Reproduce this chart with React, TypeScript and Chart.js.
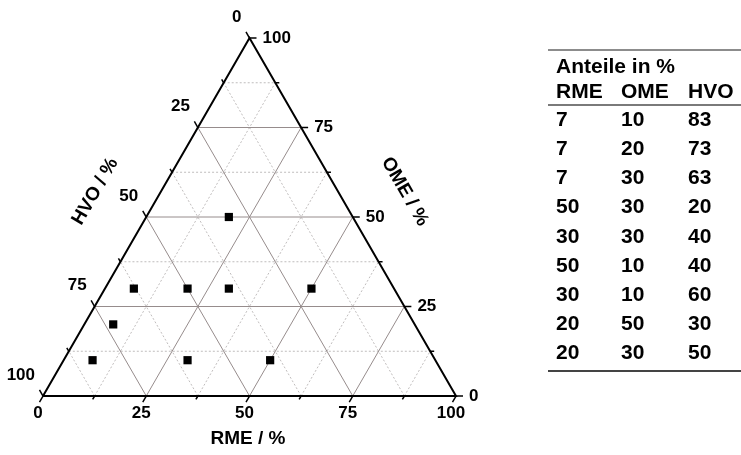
import React, { useEffect, useRef } from "react";
import { Chart, registerables } from "chart.js";

Chart.register(...registerables);

// Blend compositions (percent by volume)
const RME = [7, 7, 7, 50, 30, 50, 30, 20, 20];
const OME = [10, 20, 30, 30, 30, 10, 10, 50, 30];
const HVO = [83, 73, 63, 20, 40, 40, 60, 30, 50];

const TABLE_TITLE = "Anteile in %";
const COLUMN_NAMES = ["RME", "OME", "HVO"];

const MAJOR_GRID = [25, 50, 75];
const MINOR_GRID = [12.5, 37.5, 62.5, 87.5];
const TICK_VALUES = [0, 25, 50, 75, 100];

const AXIS_TITLES = { rme: "RME / %", ome: "OME / %", hvo: "HVO / %" };

const H = Math.sqrt(3) / 2;
const FONT = '"Liberation Sans", Arial, sans-serif';

// ternary composition (RME, OME) -> cartesian data coordinates
const tp = (rme: number, ome: number) => ({ x: rme + ome / 2, y: ome * H });

function lineDataset(a: { x: number; y: number }, b: { x: number; y: number }, color: string, width: number, dash: number[], order: number) {
  return {
    type: "scatter" as const,
    data: [a, b],
    showLine: true,
    borderColor: color,
    borderWidth: width,
    borderDash: dash,
    pointRadius: 0,
    pointHoverRadius: 0,
    clip: false as any,
    order,
  };
}

function gridDatasets(values: number[], color: string, width: number, dash: number[], order: number) {
  const out: any[] = [];
  values.forEach((c) => {
    // constant OME (horizontal)
    out.push(lineDataset(tp(0, c), tp(100 - c, c), color, width, dash, order));
    // constant RME (parallel to left edge)
    out.push(lineDataset(tp(c, 0), tp(c, 100 - c), color, width, dash, order));
    // constant HVO (parallel to right edge)
    out.push(lineDataset(tp(100 - c, 0), tp(0, 100 - c), color, width, dash, order));
  });
  return out;
}

const ternaryAxes = {
  id: "ternaryAxes",
  afterDatasetsDraw(chart: any) {
    const { ctx, scales } = chart;
    const xs = scales.x;
    const ys = scales.y;
    const px = (p: { x: number; y: number }) => ({ x: xs.getPixelForValue(p.x), y: ys.getPixelForValue(p.y) });

    ctx.save();
    ctx.strokeStyle = "#000";
    ctx.lineWidth = 1.5;

    const tick = (p: { x: number; y: number }, dx: number, dy: number, len: number) => {
      ctx.beginPath();
      ctx.moveTo(p.x, p.y);
      ctx.lineTo(p.x + dx * len, p.y + dy * len);
      ctx.stroke();
    };

    const all = [...TICK_VALUES.map((v) => [v, 7]), ...MINOR_GRID.map((v) => [v, 4])];
    all.forEach(([v, len]) => {
      tick(px(tp(v, 0)), -0.5, H, len); // RME along bottom
      tick(px(tp(100 - v, v)), 1, 0, len); // OME along right
      tick(px(tp(0, 100 - v)), -0.5, -H, len); // HVO along left
    });

    ctx.fillStyle = "#000";
    ctx.font = `bold 17px ${FONT}`;
    ctx.textBaseline = "middle";
    TICK_VALUES.forEach((v) => {
      const b = px(tp(v, 0));
      ctx.textAlign = "center";
      ctx.fillText(String(v), b.x - 5, b.y + 17);
      const r = px(tp(100 - v, v));
      ctx.textAlign = "left";
      ctx.fillText(String(v), r.x + 13, r.y);
      const l = px(tp(0, 100 - v));
      ctx.textAlign = "right";
      ctx.fillText(String(v), l.x - 8, l.y - 21);
    });

    // axis titles
    ctx.font = `bold 19px ${FONT}`;
    ctx.textAlign = "center";
    const bm = px(tp(50, 0));
    ctx.fillText(AXIS_TITLES.rme, bm.x - 1.5, bm.y + 43);

    const lm = px(tp(0, 50));
    ctx.save();
    ctx.translate(lm.x - 51, lm.y - 25.5);
    ctx.rotate(-Math.PI / 3);
    ctx.fillText(AXIS_TITLES.hvo, 0, 0);
    ctx.restore();

    const rm = px(tp(50, 50));
    ctx.save();
    ctx.translate(rm.x + 52, rm.y - 25.5);
    ctx.rotate(Math.PI / 3);
    ctx.fillText(AXIS_TITLES.ome, 0, 0);
    ctx.restore();

    ctx.restore();
  },
};

export default function App() {
  const ref = useRef<HTMLCanvasElement>(null);

  useEffect(() => {
    const datasets: any[] = [
      {
        type: "scatter",
        data: RME.map((r, i) => tp(r, OME[i])),
        pointStyle: "rect",
        pointRadius: 5.8,
        pointBorderWidth: 0,
        backgroundColor: "#000",
        borderColor: "#000",
        clip: false,
        order: 0,
      },
      {
        type: "scatter",
        data: [tp(0, 0), tp(100, 0), tp(0, 100), tp(0, 0)],
        showLine: true,
        borderColor: "#000",
        borderWidth: 2,
        pointRadius: 0,
        pointHoverRadius: 0,
        clip: false,
        order: 1,
      },
      ...gridDatasets(MAJOR_GRID, "rgb(150,140,140)", 1, [], 2),
      ...gridDatasets(MINOR_GRID, "rgb(192,189,189)", 1, [2, 2], 3),
    ];

    const chart = new Chart(ref.current!, {
      type: "scatter",
      data: { datasets },
      options: {
        responsive: false,
        animation: false,
        layout: { padding: { left: 43, right: 285, top: 38, bottom: 59 } },
        plugins: { legend: { display: false }, tooltip: { enabled: false } },
        scales: {
          x: { type: "linear", min: 0, max: 100, display: false },
          y: { type: "linear", min: 0, max: 100 * H, display: false },
        },
        events: [],
      },
      plugins: [ternaryAxes],
    });
    return () => chart.destroy();
  }, []);

  const textStyle: React.CSSProperties = {
    position: "absolute",
    font: `bold 21px ${FONT}`,
    lineHeight: "21px",
    color: "#000",
    whiteSpace: "nowrap",
  };
  const colX = [556, 621, 688];
  const rows = RME.map((r, i) => [r, OME[i], HVO[i]]);

  return (
    <div style={{ position: "fixed", left: 0, top: 0, width: 741, height: 455, background: "#fff", overflow: "hidden" }}>
      <canvas ref={ref} width={741} height={455} style={{ position: "absolute", left: 0, top: 0 }} />
      <div style={{ position: "absolute", left: 548, top: 49, width: 193, height: 2, background: "#8c8c8c" }} />
      <div style={{ ...textStyle, left: colX[0], top: 54.5 }}>{TABLE_TITLE}</div>
      {COLUMN_NAMES.map((n, j) => (
        <div key={n} style={{ ...textStyle, left: colX[j], top: 79.5 }}>{n}</div>
      ))}
      <div style={{ position: "absolute", left: 548, top: 103.5, width: 193, height: 2, background: "#7a7a7a" }} />
      {rows.map((row, i) =>
        row.map((v, j) => (
          <div key={`${i}-${j}`} style={{ ...textStyle, left: colX[j], top: 107.7 + i * 29.2 }}>{v}</div>
        ))
      )}
      <div style={{ position: "absolute", left: 548, top: 370, width: 193, height: 2, background: "#444" }} />
    </div>
  );
}
